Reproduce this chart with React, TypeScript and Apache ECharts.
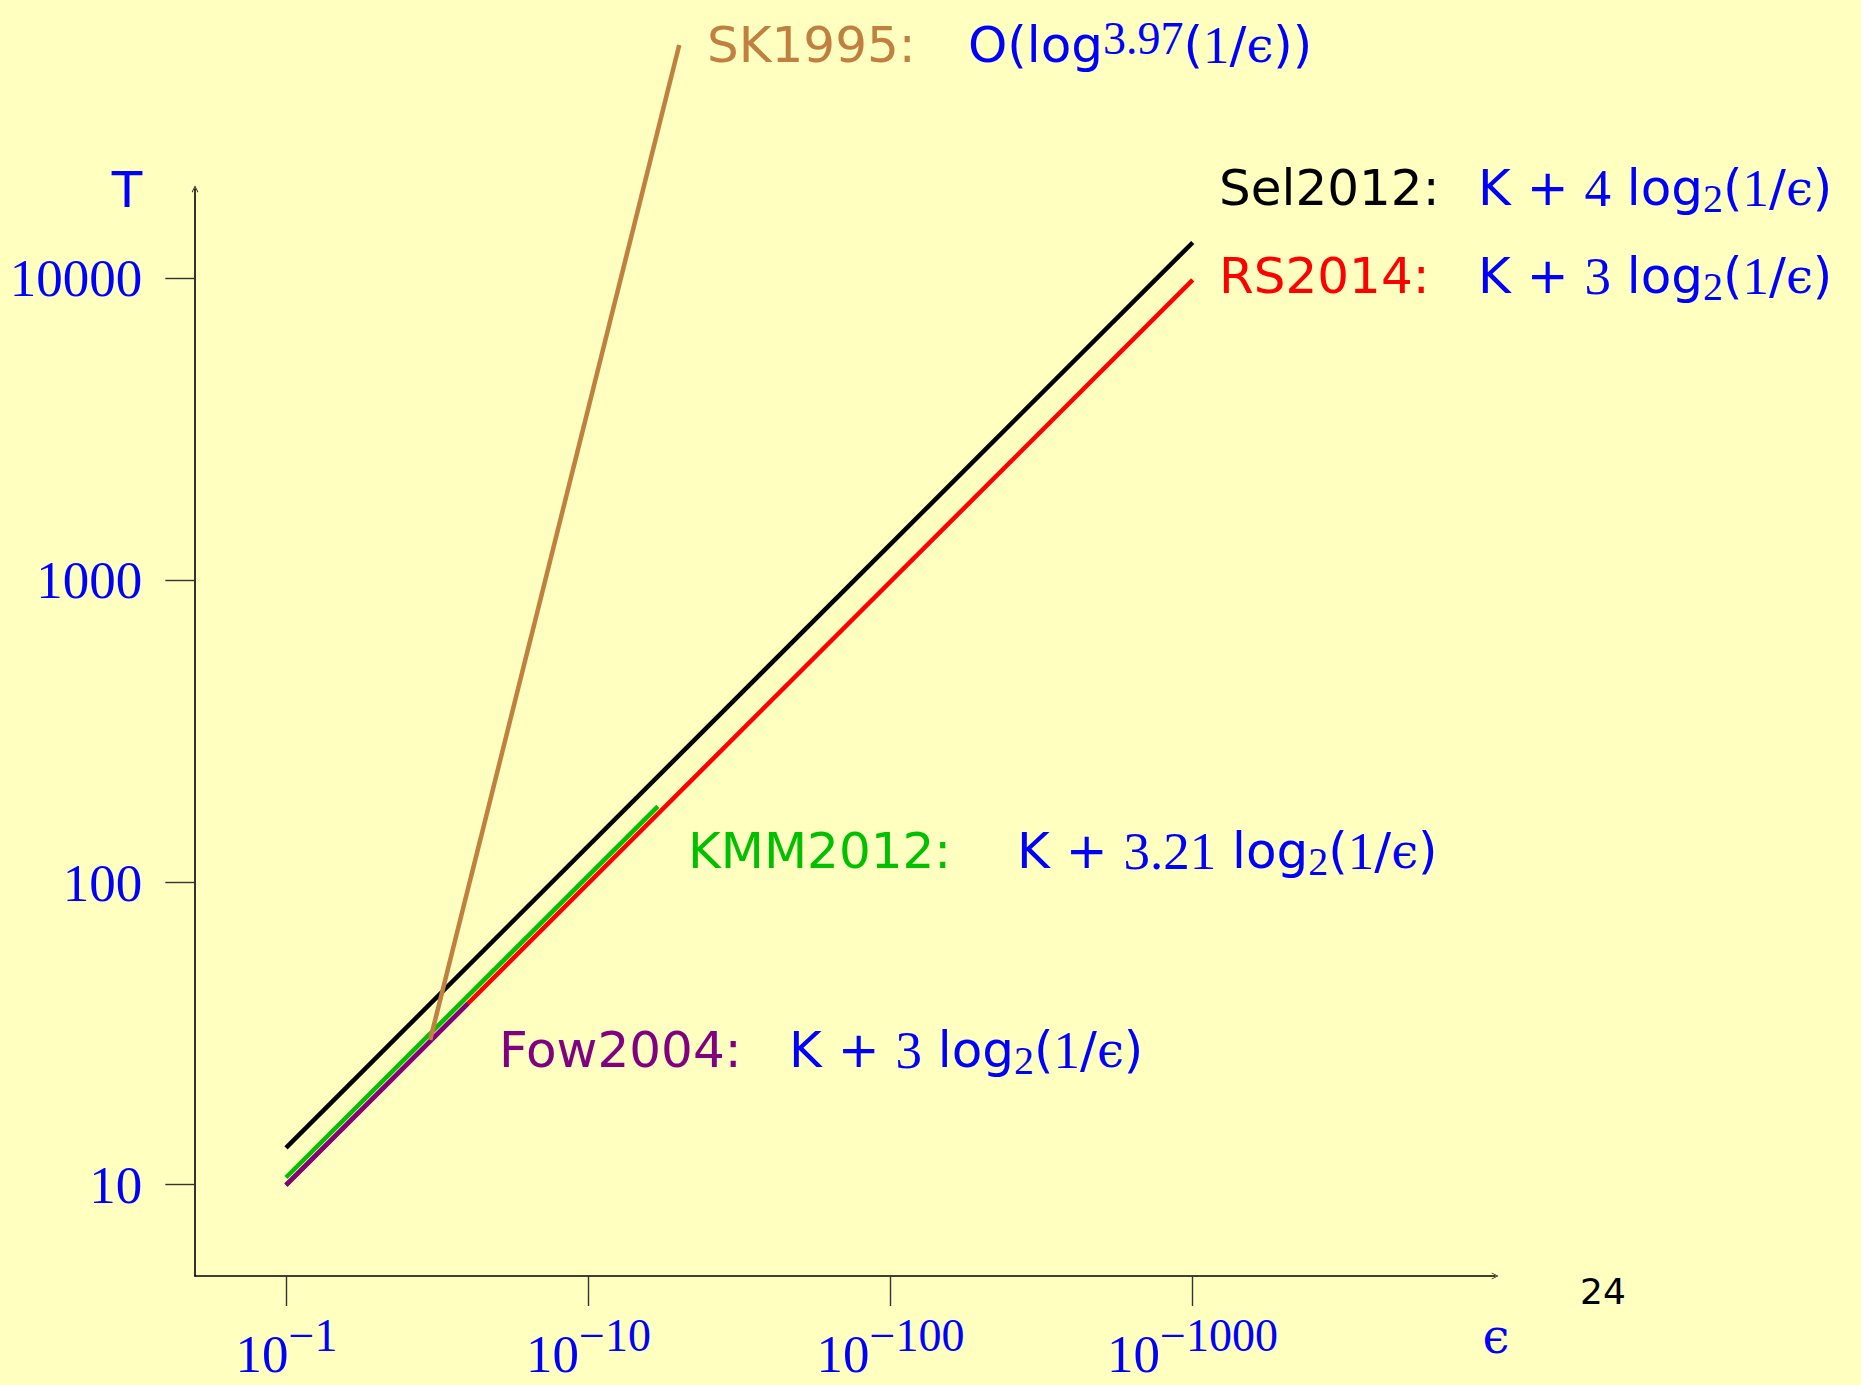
import React, { useEffect, useRef } from 'react';
import * as echarts from 'echarts';

// x value = log10(1/ε)  (so 1 ↔ ε = 10^-1, 1000 ↔ ε = 10^-1000), y value = T
const sel2012: [number, number][] = [[1, 13.3], [1000, 13300]];
const rs2014: [number, number][] = [[1, 10], [1000, 10000]];
const kmm2012: [number, number][] = [[1, 10.6], [17, 180]];
const fow2004: [number, number][] = [[1, 10], [4, 40]];
const sk1995: [number, number][] = [[3, 30.3], [20, 60000]];

const xTickValues = [1, 10, 100, 1000];
const xTickExponents = ['−1', '−10', '−100', '−1000'];
const yTickValues = [10, 100, 1000, 10000];
const yTickLabels = ['10', '100', '1000', '10000'];

const BLUE = '#0000FF';
const BG = '#FFFFC0';
const SANS = '"DejaVu Sans", sans-serif';
const SERIF = '"Liberation Serif", "DejaVu Serif", serif';

const richMath = {
  n: { fontFamily: SANS, fontSize: 50, lineHeight: 60 },
  m: { fontFamily: SANS, fontSize: 50, lineHeight: 60, fill: BLUE, color: BLUE },
  d: { fontFamily: SERIF, fontSize: 53, lineHeight: 60, fill: BLUE, color: BLUE },
  e: { fontFamily: '"DejaVu Serif", serif', fontSize: 48, lineHeight: 60, fill: BLUE, color: BLUE },
  sub: { fontFamily: SERIF, fontSize: 40, lineHeight: 30, verticalAlign: 'bottom', fill: BLUE, color: BLUE },
  sup: { fontFamily: SERIF, fontSize: 46, lineHeight: 30, verticalAlign: 'top', fill: BLUE, color: BLUE },
};

const label = (x: number, baseline: number, text: string, color: string, align = 'left') => ({
  type: 'text',
  x,
  y: baseline - 47,
  silent: true,
  z: 100,
  style: {
    text,
    align,
    verticalAlign: 'top',
    fill: color,
    rich: { ...richMath, n: { ...richMath.n, fill: color, color } },
  },
});

const logForm = (coef: string) =>
  `{m|K + }{d|${coef}}{m| log}{sub|2}{m|(}{d|1}{m|/}{e|ϵ}{m|)}`;

export default function App() {
  const ref = useRef<HTMLDivElement>(null);

  useEffect(() => {
    document.body.style.margin = '0';
    document.body.style.background = BG;
    if (!ref.current) return;
    const chart = echarts.init(ref.current, null, { renderer: 'svg' });

    const lineSeries = (name: string, data: [number, number][], color: string) => ({
      name,
      type: 'line',
      data,
      xAxisIndex: 0,
      yAxisIndex: 0,
      symbol: 'none',
      showSymbol: false,
      clip: false,
      silent: true,
      lineStyle: { color, width: 4.5 },
      itemStyle: { color },
    });

    const arrow = 'path://M0,10 L5,0 L10,10 L9,10.6 L5,2.2 L1,10.6 Z';

    chart.setOption({
      animation: false,
      backgroundColor: BG,
      grid: [
        { left: 195, top: 189, width: 1300, height: 1087, outerBoundsMode: 'none', containLabel: false },
        { left: 286.5, top: 278.3, width: 906, height: 906.4, outerBoundsMode: 'none', containLabel: false },
      ],
      xAxis: [
        {
          type: 'log', gridIndex: 0, min: 0.5, max: 10000, position: 'bottom',
          axisLine: { show: true, lineStyle: { color: '#000', width: 1.6 }, symbol: ['none', arrow], symbolSize: [11, 7], symbolOffset: [0, 0] },
          axisTick: { show: false }, axisLabel: { show: false }, splitLine: { show: false },
        },
        {
          type: 'log', gridIndex: 1, min: 1, max: 1000, position: 'bottom', offset: 91.3,
          axisLine: { show: false },
          axisTick: { show: true, inside: false, length: 30, lineStyle: { color: '#333', width: 1.4 } },
          splitLine: { show: false },
          axisLabel: {
            show: true,
            margin: 54,
            formatter: (v: number) => {
              const i = xTickValues.indexOf(Math.round(v));
              return i < 0 ? '' : `{b|10}{s|${xTickExponents[i]}}`;
            },
            rich: {
              b: { fontFamily: SERIF, fontSize: 53, lineHeight: 48, color: BLUE },
              s: { fontFamily: SERIF, fontSize: 46, lineHeight: 10, padding: [0, 0, 38, 0], color: BLUE },
            },
          },
        },
      ],
      yAxis: [
        {
          type: 'log', gridIndex: 0, min: 5, max: 20000, position: 'left',
          axisLine: { show: true, lineStyle: { color: '#000', width: 1.6 }, symbol: ['none', arrow], symbolSize: [11, 7], symbolOffset: [0, 0] },
          axisTick: { show: false }, axisLabel: { show: false }, splitLine: { show: false },
        },
        {
          type: 'log', gridIndex: 1, min: 10, max: 10000, position: 'left', offset: 91.2,
          axisLine: { show: false },
          axisTick: { show: true, inside: false, length: 30, lineStyle: { color: '#333', width: 1.4 } },
          splitLine: { show: false },
          axisLabel: {
            show: true,
            margin: 53,
            color: BLUE,
            fontFamily: SERIF,
            fontSize: 53,
            formatter: (v: number) => {
              const i = yTickValues.indexOf(Math.round(v));
              return i < 0 ? '' : yTickLabels[i];
            },
          },
        },
      ],
      series: [
        lineSeries('Sel2012', sel2012, '#000000'),
        lineSeries('RS2014', rs2014, '#FF0000'),
        lineSeries('KMM2012', kmm2012, '#00C000'),
        lineSeries('Fow2004', fow2004, '#800080'),
        lineSeries('SK1995', sk1995, '#C08040'),
      ],
      graphic: [
        label(707, 62, '{n|SK1995:}', '#C08040'),
        label(968, 62, '{m|O(log}{sup|3.97}{m|(}{d|1}{m|/}{e|ϵ}{m|))}', BLUE),
        label(1219, 205, '{n|Sel2012:}', '#000000'),
        label(1478, 205, logForm('4'), BLUE),
        label(1219, 293, '{n|RS2014:}', '#FF0000'),
        label(1478, 293, logForm('3'), BLUE),
        label(688, 868, '{n|KMM2012:}', '#00C000'),
        label(1017, 868, logForm('3.21'), BLUE),
        label(499, 1067, '{n|Fow2004:}', '#800080'),
        label(789, 1067, logForm('3'), BLUE),
        label(127, 207, '{m|T}', BLUE, 'center'),
        label(1496, 1353, '{e|ϵ}', BLUE, 'center'),
        {
          type: 'text', x: 1580, y: 1273, silent: true,
          style: { text: '24', fill: '#000', fontFamily: SANS, fontSize: 36, verticalAlign: 'top', align: 'left' },
        },
      ],
    });

    return () => chart.dispose();
  }, []);

  return <div ref={ref} style={{ width: 1861, height: 1385 }} />;
}
